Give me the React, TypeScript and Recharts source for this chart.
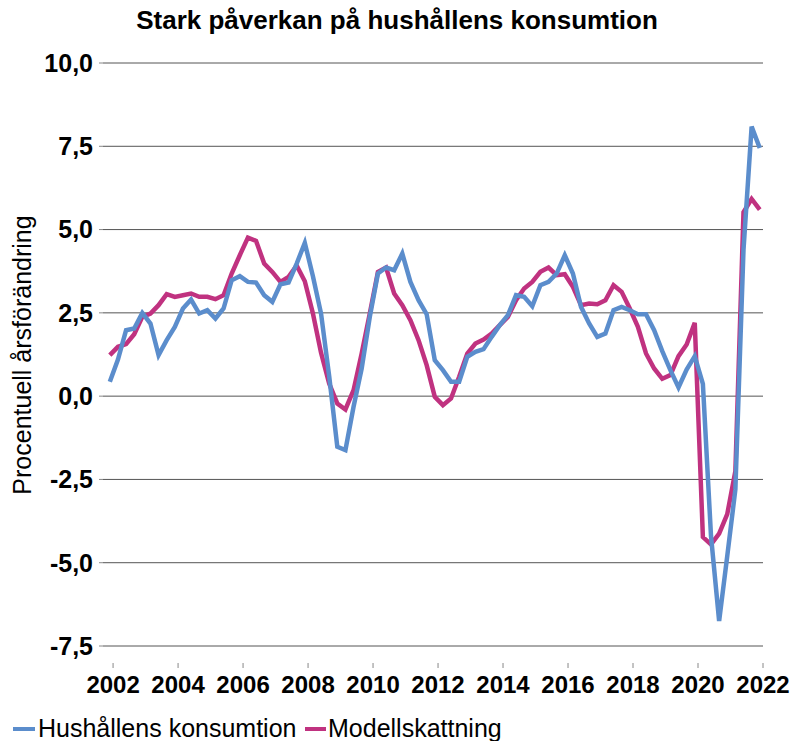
import React from 'react';
import { LineChart, Line, XAxis, YAxis, CartesianGrid } from 'recharts';

// quarterly observations, first one just before 2002
const quarters = Array.from({ length: 81 }, (_, i) => 2001.9 + i * 0.25);

const hushallensKonsumtion = [
  0.43, 1.1, 1.98, 2.03, 2.5, 2.18, 1.23, 1.68, 2.08, 2.63,
  2.9, 2.48, 2.58, 2.33, 2.63, 3.48, 3.6, 3.43, 3.41, 3.03,
  2.83, 3.36, 3.41, 3.98, 4.6, 3.6, 2.48, 0.6, -1.52, -1.62,
  -0.32, 0.83, 2.38, 3.68, 3.86, 3.78, 4.28, 3.43, 2.88, 2.46,
  1.08, 0.78, 0.43, 0.43, 1.18, 1.33, 1.41, 1.78, 2.13, 2.43,
  3.03, 2.98, 2.7, 3.33, 3.43, 3.68, 4.23, 3.68, 2.68, 2.18,
  1.78, 1.88, 2.58, 2.68, 2.58, 2.46, 2.46, 1.98, 1.35, 0.78,
  0.26, 0.8, 1.2, 0.37, -4.2, -6.75, -4.8, -2.8, 4.4, 8.09,
  7.45,
];

const modellskattning = [
  1.23, 1.48, 1.56, 1.86, 2.38, 2.48, 2.73, 3.06, 2.98, 3.03,
  3.08, 2.98, 2.98, 2.91, 3.03, 3.68, 4.23, 4.76, 4.66, 3.98,
  3.73, 3.43, 3.58, 3.92, 3.45, 2.48, 1.3, 0.38, -0.22, -0.4,
  0.18, 1.28, 2.48, 3.73, 3.86, 3.08, 2.73, 2.28, 1.68, 0.93,
  -0.02, -0.27, -0.07, 0.58, 1.28, 1.58, 1.7, 1.88, 2.13, 2.38,
  2.88, 3.23, 3.43, 3.73, 3.86, 3.63, 3.66, 3.28, 2.73, 2.78,
  2.76, 2.88, 3.33, 3.13, 2.63, 2.08, 1.28, 0.83, 0.52, 0.63,
  1.2, 1.55, 2.2, -4.23, -4.45, -4.13, -3.54, -2.25, 5.52, 5.92,
  5.6,
];

const xTicks = [2002, 2004, 2006, 2008, 2010, 2012, 2014, 2016, 2018, 2020, 2022];
const yTicks = [-7.5, -5, -2.5, 0, 2.5, 5, 7.5, 10];

const BLUE = '#5B8DCC';
const PINK = '#C03280';
const FONT = '"Liberation Sans", Arial, sans-serif';

const data = quarters.map((t, i) => ({
  t,
  hush: hushallensKonsumtion[i],
  modell: modellskattning[i],
}));

const YearTick = (props: any) => {
  const { x, y, payload } = props;
  return (
    <g>
      <line x1={x} x2={x} y1={y + 17} y2={y + 22} stroke="#888" strokeWidth={1} />
      <text x={x} y={y + 47} textAnchor="middle" fontSize={24} fontWeight="bold" fill="#000" fontFamily={FONT}>
        {payload.value}
      </text>
    </g>
  );
};

const App = () => {
  return (
    <div style={{ position: 'absolute', left: 0, top: 0, width: 794, height: 741, background: '#fff' }}>
      <LineChart width={794} height={741} data={data} margin={{ top: 63, right: 31, bottom: 0, left: 0 }}>
        <CartesianGrid vertical={false} stroke="#555" />
        <XAxis
          dataKey="t"
          type="number"
          domain={[2001.69, 2022]}
          ticks={xTicks}
          height={95}
          axisLine={false}
          tickLine={false}
          tickSize={0}
          tickMargin={0}
          tick={<YearTick />}
          interval={0}
        />
        <YAxis
          domain={[-7.5, 10]}
          ticks={yTicks}
          width={103}
          axisLine={false}
          tickSize={4}
          tickMargin={6}
          tickLine={{ stroke: '#888' }}
          tickFormatter={(v: number) => v.toFixed(1).replace('.', ',')}
          tick={{ fontSize: 25, fontWeight: 'bold', fill: '#000', fontFamily: FONT }}
          interval={0}
        />
        <Line type="linear" dataKey="modell" stroke={PINK} strokeWidth={4.5} dot={false} isAnimationActive={false} />
        <Line type="linear" dataKey="hush" stroke={BLUE} strokeWidth={4.5} dot={false} isAnimationActive={false} />
      </LineChart>
      <svg width={794} height={741} style={{ position: 'absolute', left: 0, top: 0, pointerEvents: 'none' }} fontFamily={FONT}>
        <text x={397} y={29} textAnchor="middle" fontSize={26} fontWeight="bold" fill="#000">
          Stark påverkan på hushållens konsumtion
        </text>
        <text transform="translate(31,355) rotate(-90)" textAnchor="middle" fontSize={25} fill="#000">
          Procentuell årsförändring
        </text>
        <rect x={13} y={727} width={22} height={4} fill={BLUE} />
        <text x={38} y={737} fontSize={25} fill="#000">Hushållens konsumtion</text>
        <rect x={305} y={727} width={21} height={4} fill={PINK} />
        <text x={328} y={737} fontSize={25} fill="#000">Modellskattning</text>
      </svg>
    </div>
  );
};

export default App;
